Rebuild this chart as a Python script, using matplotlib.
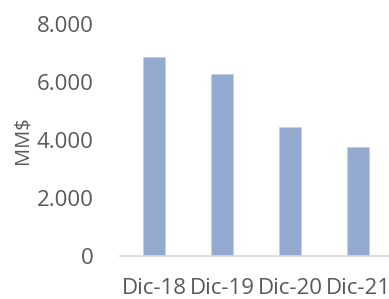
import matplotlib.pyplot as plt

categories = ['Dic-18', 'Dic-19', 'Dic-20', 'Dic-21']
values = [6855, 6290, 4460, 3770]
yticks = [0, 2000, 4000, 6000, 8000]
ytick_labels = ['0', '2.000', '4.000', '6.000', '8.000']

plt.rcParams['font.family'] = ['Open Sans', 'DejaVu Sans']

fig = plt.figure(figsize=(3.89, 2.99), dpi=100)
ax = fig.add_axes([120 / 389, 43 / 299, 272 / 389, 232 / 299])

ax.bar(range(len(categories)), values, width=0.32, color='#94A9D0',
       edgecolor='#C3D0E6', linewidth=0.6)

ax.set_xlim(-0.5, 3.5)
ax.set_ylim(0, 8000)
ax.set_yticks(yticks)
ax.set_yticklabels(ytick_labels)
ax.set_xticks(range(len(categories)))
ax.set_xticklabels(categories)

for s in ['top', 'right', 'left']:
    ax.spines[s].set_visible(False)
ax.spines['bottom'].set_color('#D9D9D9')
ax.spines['bottom'].set_linewidth(1.2)

ax.tick_params(axis='both', length=0, colors='#595959')
ax.tick_params(axis='y', pad=19, labelsize=16)
ax.tick_params(axis='x', pad=16, labelsize=16)
ax.set_ylabel('MM$', fontsize=14.5, color='#595959', labelpad=3)

fig.savefig('out.png', dpi=100)
